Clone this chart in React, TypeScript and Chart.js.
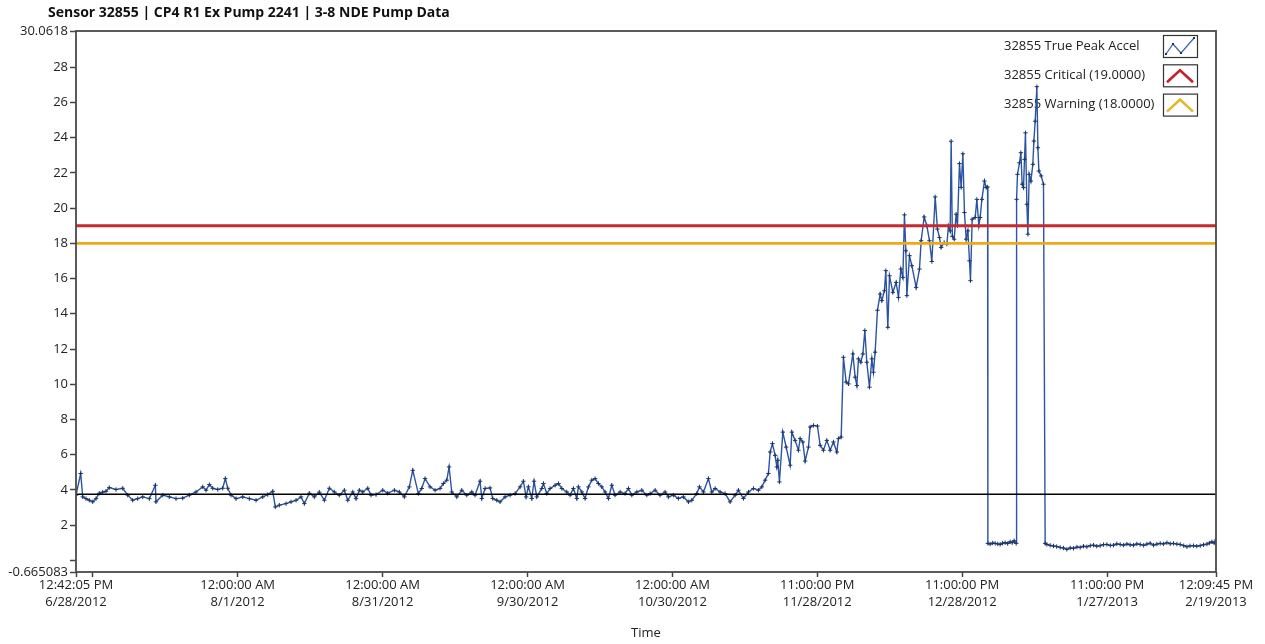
import React, { useEffect, useRef } from "react";
import { Chart, registerables } from "chart.js";

Chart.register(...registerables);

const chartTitle = "Sensor 32855 | CP4 R1 Ex Pump 2241 | 3-8 NDE Pump Data";
const seriesName = "32855 True Peak Accel";
const criticalName = "32855 Critical (19.0000)";
const warningName = "32855 Warning (18.0000)";
const xAxisTitle = "Time";

const criticalLevel = 19;
const warningLevel = 18;
const baselineLevel = 3.75;

// x = days since 6/28/2012 12:42:05 PM, y = true peak acceleration
const summerBaseline: [number, number][] = [
  [0, 3.7], [0.97, 4.93], [1.39, 3.6], [2.07, 3.5], [2.75, 3.41], [3.46, 3.32], [4.14, 3.5], [4.82, 3.81], [5.53, 3.87], [6.21, 3.92],
  [6.89, 4.13], [8.28, 4.02], [9.67, 4.09], [10.7, 3.7], [11.74, 3.41], [12.77, 3.5], [13.81, 3.6], [15.18, 3.5], [16.42, 4.26], [16.56, 3.32],
  [17.95, 3.7], [19.32, 3.6], [20.7, 3.5], [22.09, 3.53], [23.46, 3.7], [24.84, 3.88], [26.23, 4.17], [26.92, 3.98], [27.6, 4.3], [28.3, 4.09],
  [29.34, 4.02], [30.37, 4.09], [30.91, 4.64], [31.41, 4.09], [32.09, 3.7], [33.13, 3.5], [34.51, 3.6], [35.88, 3.5], [37.27, 3.41], [38.65, 3.6],
  [39.69, 3.73], [40.72, 3.92], [41.26, 3.03], [42.09, 3.13], [43.48, 3.22], [44.51, 3.32], [45.55, 3.41], [46.58, 3.6], [47.27, 3.22], [48.3, 3.81],
  [49.34, 3.6], [50.37, 3.87], [51.41, 3.41], [52.44, 4.09], [53.48, 3.88], [54.51, 3.7], [55.55, 3.98], [56.25, 3.41], [57.29, 3.88], [57.97, 3.5],
  [58.65, 3.98], [59.36, 3.88], [60.39, 4.09], [61.08, 3.7], [62.11, 3.73], [63.5, 3.98], [64.53, 3.81], [65.9, 3.98], [66.94, 3.88], [67.97, 3.6],
  [69.0, 4.17], [69.71, 5.11],
];

const autumnBaseline: [number, number][] = [
  [70.87, 3.79], [71.57, 4.08], [72.26, 4.64], [73.29, 4.17], [74.33, 3.98], [75.36, 4.08], [76.05, 4.36], [76.75, 4.55], [77.23, 5.3], [77.78, 3.88],
  [78.82, 3.6], [79.85, 3.98], [80.89, 3.7], [81.93, 3.88], [82.6, 3.7], [83.64, 4.49], [84.0, 3.51], [84.68, 4.08], [85.71, 4.11], [86.27, 3.51],
  [87.1, 3.41], [87.78, 3.32], [88.82, 3.6], [89.86, 3.7], [90.89, 3.79], [91.93, 4.17], [92.61, 4.49], [93.17, 3.6], [93.64, 4.17], [94.35, 3.51],
  [94.82, 4.49], [95.38, 3.6], [96.42, 4.08], [96.75, 4.36], [97.45, 3.79], [98.14, 4.08], [99.17, 4.26], [99.86, 4.36], [100.56, 4.08], [101.59, 3.88],
  [102.28, 3.7], [102.96, 4.08], [103.66, 3.51], [104.0, 4.17], [104.7, 3.88], [105.38, 3.51], [106.07, 4.17], [106.77, 4.55], [107.45, 4.64], [108.14, 4.36],
  [108.84, 4.17], [109.52, 3.88], [110.21, 3.51], [110.91, 4.26], [111.59, 3.7], [112.63, 3.88], [113.66, 3.79], [114.35, 4.08], [115.05, 3.7], [116.09, 3.88],
  [117.12, 3.98], [118.16, 3.7], [118.84, 3.79], [119.88, 3.98], [120.91, 3.7], [121.95, 3.88], [122.63, 3.6], [123.66, 3.7], [124.7, 3.51], [125.73, 3.6],
  [126.77, 3.32], [127.47, 3.41], [128.5, 3.79], [129.05, 4.17], [129.88, 3.88], [130.91, 4.64], [131.61, 3.88], [132.3, 4.08], [133.33, 3.88], [134.37, 3.79],
  [135.4, 3.32], [136.44, 3.7], [137.12, 3.98], [138.16, 3.51], [139.19, 3.88], [140.23, 4.08], [141.26, 3.98], [141.97, 4.17], [142.65, 4.55], [143.33, 4.93],
];

const rampUp: [number, number][] = [
  [143.69, 6.15], [144.16, 6.63], [144.72, 5.96], [145.07, 5.3], [145.27, 5.68], [145.61, 4.45], [146.31, 7.28], [147.0, 6.43], [147.83, 5.4], [148.18, 7.28],
  [148.86, 6.81], [149.54, 6.25], [149.9, 6.91], [150.45, 6.72], [150.93, 5.64], [151.62, 6.43], [151.97, 7.57], [152.65, 7.66], [153.48, 7.62], [154.04, 6.53],
  [154.72, 6.25], [155.42, 6.81], [156.11, 6.25], [156.79, 6.72], [157.49, 6.15], [157.83, 6.91], [158.39, 7.0], [158.86, 11.53], [159.42, 10.12], [159.9, 10.02],
  [160.81, 11.72], [161.29, 10.4], [161.64, 9.93], [161.97, 11.44], [162.46, 11.25], [162.88, 11.72], [163.29, 13.05], [163.7, 11.25], [164.24, 9.83], [164.74, 11.44],
  [165.07, 10.68], [165.42, 11.82], [165.9, 14.2],
];

const alarmPeriod: [number, number][] = [
  [166.46, 15.12], [166.8, 14.75], [167.34, 15.31], [167.63, 16.45], [168.05, 13.23], [168.39, 16.16], [169.09, 15.22], [169.77, 15.78], [170.25, 14.93], [170.74, 16.54],
  [171.16, 16.07], [171.49, 19.62], [171.78, 17.58], [171.99, 15.03], [172.53, 17.3], [173.02, 16.73], [173.91, 15.5], [174.6, 16.54], [174.95, 18.15], [175.57, 19.5],
  [176.13, 19.0], [176.67, 18.15], [177.16, 16.97], [177.85, 20.64], [178.32, 18.81], [178.74, 18.33], [179.09, 17.77], [179.71, 18.05], [180.27, 17.96], [180.6, 19.0],
  [180.95, 18.71], [181.16, 23.8], [181.4, 18.4], [181.78, 18.24], [182.19, 19.66], [182.46, 19.0], [182.88, 22.53], [183.23, 21.17], [183.58, 23.09], [183.91, 19.75],
  [184.27, 18.24], [184.62, 18.71], [184.95, 17.01], [185.16, 15.88], [185.51, 19.37], [186.13, 19.47], [186.48, 20.5], [186.89, 19.0], [187.16, 19.47], [187.52, 20.5],
  [188.05, 21.54], [188.41, 21.17], [188.7, 21.2],
];

const decemberDropout: [number, number][] = [
  [188.76, 0.96], [189.23, 0.92], [189.75, 0.98], [190.27, 0.96], [190.8, 0.93], [191.3, 0.9], [191.8, 0.97], [192.34, 1.0], [192.85, 0.95], [193.37, 1.05],
  [193.8, 1.0], [194.2, 1.11], [194.62, 0.96],
];

const januaryBurst: [number, number][] = [
  [194.7, 20.5], [194.89, 21.92], [195.3, 22.58], [195.59, 23.15], [195.86, 21.36], [196.13, 21.17], [196.34, 22.77], [196.54, 24.28], [196.83, 20.22], [197.04, 18.52],
  [197.31, 21.92], [197.66, 21.54], [198.07, 22.49], [198.28, 23.81], [198.55, 24.94], [198.9, 26.9], [199.11, 23.43], [199.32, 22.11], [199.79, 21.83], [200.27, 21.36],
];

const finalDropout: [number, number][] = [
  [200.62, 0.96], [200.97, 0.9], [201.65, 0.85], [202.34, 0.81], [203.0, 0.78], [203.73, 0.73], [204.4, 0.7], [205.11, 0.62], [205.8, 0.7], [206.48, 0.68],
  [207.2, 0.75], [207.87, 0.73], [208.55, 0.8], [209.25, 0.77], [209.95, 0.83], [210.62, 0.86], [211.3, 0.8], [212.0, 0.83], [212.7, 0.89], [213.4, 0.9],
  [214.1, 0.84], [214.76, 0.86], [215.45, 0.93], [216.15, 0.9], [216.85, 0.86], [217.54, 0.92], [218.2, 0.88], [218.9, 0.86], [219.6, 0.93], [220.29, 0.9],
  [221.0, 0.85], [221.68, 0.92], [222.35, 0.97], [223.04, 0.86], [223.75, 0.92], [224.43, 0.96], [225.1, 0.93], [225.82, 1.0], [226.5, 0.94], [227.18, 0.96],
  [227.9, 0.92], [228.57, 0.9], [229.3, 0.83], [229.96, 0.77], [230.6, 0.82], [231.33, 0.83], [232.0, 0.8], [232.71, 0.83], [233.4, 0.88], [234.1, 0.92],
  [234.6, 0.98], [235.13, 1.05], [235.6, 0.98], [235.98, 1.15],
];

const xStart = 0;
const xEnd = 235.98;
const xTickDays = [0, 3.47, 33.47, 63.47, 93.47, 123.47, 153.43, 183.43, 213.43, 235.98];
const xTickTimes = ["12:42:05 PM", "", "12:00:00 AM", "12:00:00 AM", "12:00:00 AM", "12:00:00 AM", "11:00:00 PM", "11:00:00 PM", "11:00:00 PM", "12:09:45 PM"];
const xTickDates = ["6/28/2012", "", "8/1/2012", "8/31/2012", "9/30/2012", "10/30/2012", "11/28/2012", "12/28/2012", "1/27/2013", "2/19/2013"];

const yMin = -0.665083;
const yMax = 30.0618;
const yTickValues = [-0.665083, 0, 2, 4, 6, 8, 10, 12, 14, 16, 18, 20, 22, 24, 26, 28, 30.0618];
const yTickLabels = ["-0.665083", "", "2", "4", "6", "8", "10", "12", "14", "16", "18", "20", "22", "24", "26", "28", "30.0618"];

const FONT = '"Open Sans", "DejaVu Sans", sans-serif';

const decorPlugin = {
  id: "decor",
  beforeDatasetsDraw(chart: any) {
    const ctx = chart.ctx as CanvasRenderingContext2D;
    ctx.save();
    const items = [
      { label: seriesName, kind: "series" },
      { label: criticalName, kind: "critical" },
      { label: warningName, kind: "warning" },
    ];
    items.forEach((it, i) => {
      const cy = 46 + i * 29.3;
      ctx.font = `13px ${FONT}`;
      ctx.fillStyle = "#222";
      ctx.textAlign = "left";
      ctx.textBaseline = "middle";
      ctx.fillText(it.label, 1004, cy);
      const bx = 1163, by = cy - 11, bw = 34, bh = 22;
      ctx.fillStyle = "#fff";
      ctx.fillRect(bx, by, bw, bh);
      ctx.strokeStyle = "#333";
      ctx.lineWidth = 1.2;
      ctx.strokeRect(bx + 0.5, by + 0.5, bw, bh);
      ctx.lineJoin = "miter";
      if (it.kind === "series") {
        const pts = [[bx + 3, cy + 8], [bx + 10, cy - 2], [bx + 18, cy + 7], [bx + 31, cy - 8]];
        ctx.strokeStyle = "#3a64ad";
        ctx.lineWidth = 1.2;
        ctx.beginPath();
        pts.forEach(([x, y], k) => (k ? ctx.lineTo(x, y) : ctx.moveTo(x, y)));
        ctx.stroke();
        ctx.fillStyle = "#1d3566";
        pts.forEach(([x, y]) => ctx.fillRect(x - 1, y - 1, 2, 2));
      } else {
        ctx.strokeStyle = it.kind === "critical" ? "#c8202a" : "#e2b82c";
        ctx.lineWidth = 2.6;
        ctx.beginPath();
        ctx.moveTo(bx + 4, cy + 7);
        ctx.lineTo(bx + 17, cy - 5);
        ctx.lineTo(bx + 30, cy + 7);
        ctx.stroke();
      }
    });
    ctx.restore();
  },
  afterDraw(chart: any) {
    const ctx = chart.ctx as CanvasRenderingContext2D;
    const a = chart.chartArea;
    ctx.save();
    ctx.strokeStyle = "#4a4a4a";
    ctx.lineWidth = 1.8;
    ctx.strokeRect(a.left, a.top, a.right - a.left, a.bottom - a.top);
    ctx.font = `bold 14px ${FONT}`;
    ctx.fillStyle = "#111";
    ctx.textAlign = "left";
    ctx.textBaseline = "middle";
    ctx.fillText(chartTitle, 48, 13);
    ctx.restore();
  },
};

export default function App() {
  const canvasRef = useRef<HTMLCanvasElement | null>(null);

  useEffect(() => {
    if (!canvasRef.current) return;
    const accelPoints = [
      ...summerBaseline,
      ...autumnBaseline,
      ...rampUp,
      ...alarmPeriod,
      ...decemberDropout,
      ...januaryBurst,
      ...finalDropout,
    ].map(([d, v]) => ({ x: d, y: v }));
    const flat = (level: number) => [
      { x: xStart, y: level },
      { x: xEnd, y: level },
    ];

    const chart = new Chart(canvasRef.current, {
      type: "line",
      data: {
        datasets: [
          {
            label: criticalName,
            data: flat(criticalLevel),
            borderColor: "#c62a2f",
            borderWidth: 2.8,
            pointRadius: 0,
            order: 0,
          },
          {
            label: warningName,
            data: flat(warningLevel),
            borderColor: "#f0a818",
            borderWidth: 2.6,
            pointRadius: 0,
            order: 0,
          },
          {
            label: "baseline",
            data: flat(baselineLevel),
            borderColor: "#000",
            borderWidth: 1.4,
            pointRadius: 0,
            order: 0,
          },
          {
            label: seriesName,
            data: accelPoints,
            borderColor: "#2b55a3",
            borderWidth: 1.4,
            pointStyle: "cross",
            pointRadius: 2.2,
            pointBorderColor: "#1d3566",
            pointBorderWidth: 1,
            pointBackgroundColor: "#1d3566",
            tension: 0,
            order: 1,
          },
        ],
      },
      options: {
        responsive: false,
        animation: false,
        events: [],
        layout: { padding: { top: 31, right: 49, bottom: 0, left: 0 } },
        plugins: {
          legend: { display: false },
          tooltip: { enabled: false },
          title: { display: false },
        },
        scales: {
          x: {
            type: "linear",
            min: xStart,
            max: xEnd,
            afterBuildTicks: (scale: any) => {
              scale.ticks = xTickDays.map((v) => ({ value: v }));
            },
            afterFit: (scale: any) => {
              scale.height = 72;
            },
            ticks: {
              autoSkip: false,
              maxRotation: 0,
              minRotation: 0,
              padding: 0,
              color: "#222",
              font: { family: FONT, size: 13, lineHeight: 1.3 },
              callback: (_v: any, i: number) => [xTickTimes[i], xTickDates[i]],
            },
            grid: {
              drawOnChartArea: false,
              drawTicks: true,
              tickLength: 5,
              tickColor: "#444",
              tickWidth: 1.5,
            },
            border: { display: false },
            title: {
              display: true,
              text: xAxisTitle,
              color: "#222",
              font: { family: FONT, size: 13 },
              padding: { top: 0, bottom: 3 },
            },
          },
          y: {
            type: "linear",
            min: yMin,
            max: yMax,
            afterBuildTicks: (scale: any) => {
              scale.ticks = yTickValues.map((v) => ({ value: v }));
            },
            afterFit: (scale: any) => {
              scale.width = 76;
            },
            ticks: {
              autoSkip: false,
              padding: 2,
              color: "#222",
              font: { family: FONT, size: 13 },
              callback: (_v: any, i: number) => yTickLabels[i],
            },
            grid: {
              drawOnChartArea: false,
              drawTicks: true,
              tickLength: 6,
              tickColor: "#444",
              tickWidth: 1.5,
            },
            border: { display: false },
          },
        },
      },
      plugins: [decorPlugin],
    });
    return () => chart.destroy();
  }, []);

  return (
    <div style={{ position: "absolute", left: 0, top: 0, width: 1265, height: 644, background: "#fff" }}>
      <canvas ref={canvasRef} width={1265} height={644} style={{ display: "block" }} />
    </div>
  );
}
